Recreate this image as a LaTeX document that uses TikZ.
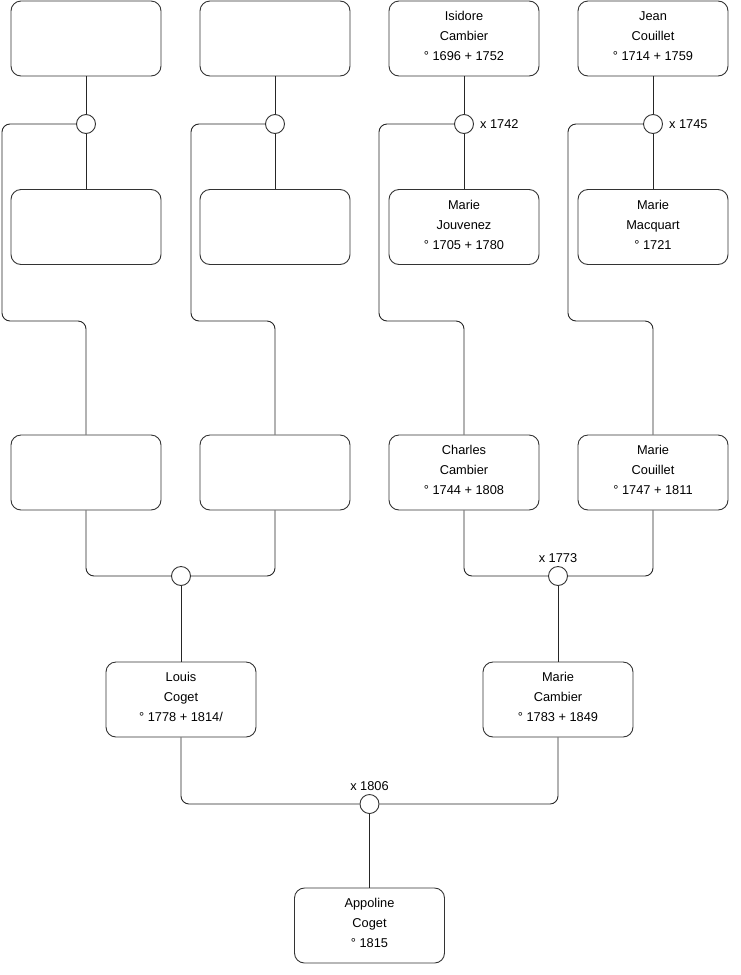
\documentclass[tikz,border=0pt]{standalone}
\usepackage{fontspec}
\setmainfont{Liberation Sans}
\usetikzlibrary{positioning, calc}
\tikzset{
    % Boxes
    person/.style={rectangle, draw=black!80, line width=0.9pt, rounded corners=10pt,
                   minimum width=150pt, minimum height=75pt, align=center,
                   text depth=5pt, font=\fontsize{12.8}{20}\selectfont},
    union/.style={circle, draw=black!80, line width=0.9pt, fill=white,
                  minimum size=19pt, inner sep=0pt},
    % Links & Labels
    link/.style={draw=black!85, line width=0.9pt, rounded corners=8pt},
    wed/.style={font=\fontsize{12.8}{14}\selectfont, inner sep=2pt}
}

\begin{document}
\begin{tikzpicture}[x=1pt, y=-1pt]
\useasboundingbox (0,0) rectangle (740,975);

% Great-grandparents
\node[person] (gpA) at (86,38.5) {};
\node[person] (gpB) at (275,38.5) {};
\node[person] (isidore) at (464,38.5) {Isidore\\Cambier\\° 1696 + 1752};
\node[person] (jean) at (653,38.5) {Jean\\Couillet\\° 1714 + 1759};

\node[union] (mA) at (86,124) {};
\node[union] (mB) at (275,124) {};
\node[union] (mC) at (464,124) {};
\node[union] (mD) at (653,124) {};
\node[wed, right=4pt of mC] (yC) {x 1742};
\node[wed, right=4pt of mD] (yD) {x 1745};

\node[person] (gmA) at (86,227) {};
\node[person] (gmB) at (275,227) {};
\node[person] (jouvenez) at (464,227) {Marie\\Jouvenez\\° 1705 + 1780};
\node[person] (macquart) at (653,227) {Marie\\Macquart\\° 1721};

% Grandparents
\node[person] (gA) at (86,472.5) {};
\node[person] (gB) at (275,472.5) {};
\node[person] (charles) at (464,472.5) {Charles\\Cambier\\° 1744 + 1808};
\node[person] (couillet) at (653,472.5) {Marie\\Couillet\\° 1747 + 1811};

\coordinate (kA) at (2,321);
\coordinate (kB) at (191,321);
\coordinate (kC) at (379,321);
\coordinate (kD) at (568,321);

\node[union] (mE) at (181,576) {};
\node[union] (mF) at (558,576) {};
\node[wed, above=1pt of mF] (yF) {x 1773};

% Parents
\node[person] (louis) at (181,699.5) {Louis\\Coget\\° 1778 + 1814/};
\node[person] (mcambier) at (558,699.5) {Marie\\Cambier\\° 1783 + 1849};

\node[union] (mG) at (369.5,804) {};
\node[wed, above=1pt of mG] (yG) {x 1806};

\node[person] (appoline) at (369.5,925.5) {Appoline\\Coget\\° 1815};

% Links
\foreach \p/\m/\q/\k/\c in {gpA/mA/gmA/kA/gA, gpB/mB/gmB/kB/gB,
                            isidore/mC/jouvenez/kC/charles, jean/mD/macquart/kD/couillet} {
    \draw[link] (\p.south) -- (\m.north);
    \draw[link] (\m.south) -- (\q.north);
    \draw[link] (\m.west) -| (\k) -| (\c.north);
}
\draw[link] (gA.south) |- (mE.west);
\draw[link] (gB.south) |- (mE.east);
\draw[link] (charles.south) |- (mF.west);
\draw[link] (couillet.south) |- (mF.east);
\draw[link] (mE.south) -- (louis.north);
\draw[link] (mF.south) -- (mcambier.north);
\draw[link] (louis.south) |- (mG.west);
\draw[link] (mcambier.south) |- (mG.east);
\draw[link] (mG.south) -- (appoline.north);

\end{tikzpicture}
\end{document}
